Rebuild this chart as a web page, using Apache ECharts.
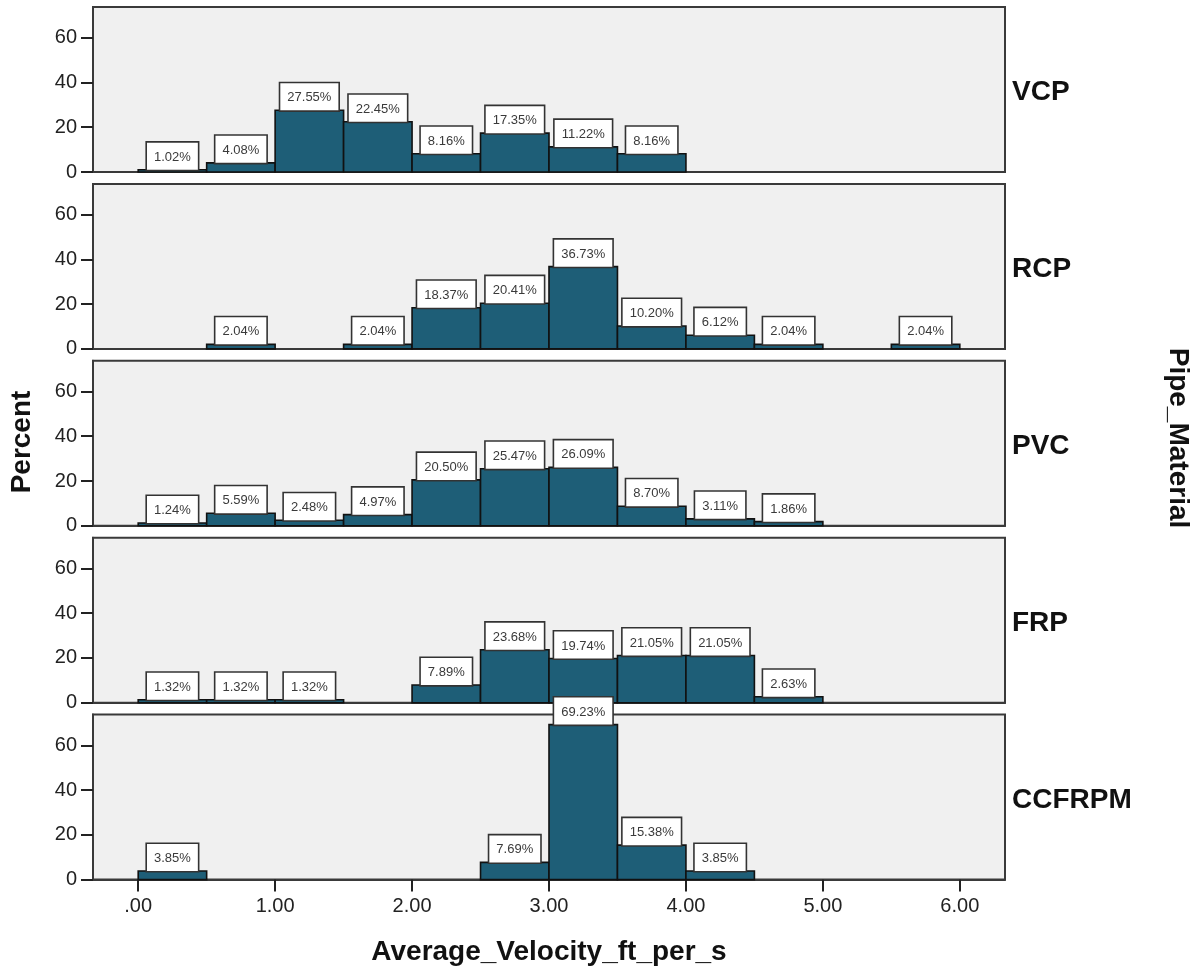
<!DOCTYPE html>
<html>
<head>
<meta charset="utf-8">
<script src="https://cdn.jsdelivr.net/npm/echarts@6/dist/echarts.min.js"></script>
<style>
  html, body { margin: 0; padding: 0; background: #fff; }
  #chart { width: 1200px; height: 970px; }
</style>
</head>
<body>
<div id="chart"></div>
<script>
// Histogram of average velocity by pipe material (percent of pipes per 0.5 ft/s bin)
const binEdges = [0, 0.5, 1, 1.5, 2, 2.5, 3, 3.5, 4, 4.5, 5, 5.5, 6];
const materials = ['VCP', 'RCP', 'PVC', 'FRP', 'CCFRPM'];

const pctVCP    = [1.02, 4.08, 27.55, 22.45, 8.16, 17.35, 11.22, 8.16, null, null, null, null];
const pctRCP    = [null, 2.04, null, 2.04, 18.37, 20.41, 36.73, 10.20, 6.12, 2.04, null, 2.04];
const pctPVC    = [1.24, 5.59, 2.48, 4.97, 20.50, 25.47, 26.09, 8.70, 3.11, 1.86, null, null];
const pctFRP    = [1.32, 1.32, 1.32, null, 7.89, 23.68, 19.74, 21.05, 21.05, 2.63, null, null];
const pctCCFRPM = [3.85, null, null, null, null, 7.69, 69.23, 15.38, 3.85, null, null, null];

const xTickValues = [0, 1, 2, 3, 4, 5, 6];
const xTickLabels = ['.00', '1.00', '2.00', '3.00', '4.00', '5.00', '6.00'];
const yTickValues = [0, 20, 40, 60];

const xTitle = 'Average_Velocity_ft_per_s';
const yTitle = 'Percent';
const panelTitle = 'Pipe_Material';

const panels = [pctVCP, pctRCP, pctPVC, pctFRP, pctCCFRPM];

const FONT = '"Liberation Sans", Arial, sans-serif';
const BAR_COLOR = '#1e5e77';

// panel layout
const PANEL_TOP = 7, PANEL_STEP = 176.9, PANEL_H = 165, PANEL_LEFT = 93, PANEL_RIGHT = 195;

const grids = [], xAxes = [], yAxes = [], series = [], graphics = [];

panels.forEach((vals, i) => {
  const top = PANEL_TOP + PANEL_STEP * i;
  const last = i === panels.length - 1;
  grids.push({
    left: PANEL_LEFT, right: PANEL_RIGHT, top: top, height: PANEL_H,
    show: true, backgroundColor: '#f0f0f0', borderColor: '#3a3a3a', borderWidth: 2
  });
  xAxes.push({
    type: 'value', gridIndex: i, min: -0.33, max: 6.33,
    splitLine: { show: false },
    axisLine: { show: true, onZero: false, lineStyle: { color: '#3a3a3a', width: 2 } },
    axisTick: { show: last, customValues: xTickValues, length: 12, lineStyle: { color: '#222', width: 2 } },
    axisLabel: {
      show: last, customValues: xTickValues, margin: 17,
      fontFamily: FONT, fontSize: 20, color: '#222',
      formatter: v => xTickLabels[xTickValues.indexOf(v)] || ''
    }
  });
  yAxes.push({
    type: 'value', gridIndex: i, min: 0, max: 73.7,
    splitLine: { show: false },
    axisLine: { show: true, onZero: false, lineStyle: { color: '#3a3a3a', width: 2 } },
    axisTick: { show: true, customValues: yTickValues, length: 12, lineStyle: { color: '#222', width: 2 } },
    axisLabel: { customValues: yTickValues, margin: 16, fontFamily: FONT, fontSize: 20, color: '#222' }
  });

  const data = [];
  vals.forEach((v, k) => {
    if (v !== null) data.push([binEdges[k], binEdges[k + 1], v]);
  });

  series.push({
    type: 'custom', xAxisIndex: i, yAxisIndex: i, clip: false, z: 3,
    data: data,
    encode: { x: [0, 1], y: 2 },
    renderItem: (params, api) => {
      const x0 = api.value(0), x1 = api.value(1), v = api.value(2);
      const pTop = api.coord([x0, v]);
      const pBot = api.coord([x1, 0]);
      return {
        type: 'group',
        children: [
          {
            type: 'rect',
            shape: { x: pTop[0], y: pTop[1], width: pBot[0] - pTop[0], height: pBot[1] - pTop[1] },
            style: { fill: BAR_COLOR, stroke: '#111', lineWidth: 1.6 }
          },
          {
            type: 'text', z2: 10,
            x: (pTop[0] + pBot[0]) / 2, y: pTop[1],
            style: {
              text: v.toFixed(2) + '%',
              align: 'center', verticalAlign: 'bottom',
              fontFamily: FONT, fontSize: 13, fill: '#3a3a3a',
              backgroundColor: '#ffffff', borderColor: '#333', borderWidth: 1.6,
              padding: [8, 7, 6, 7]
            }
          }
        ]
      };
    }
  });

  graphics.push({
    type: 'text', left: 1012, top: top + PANEL_H / 2 + 5 - 16,
    style: { text: materials[i], fontFamily: FONT, fontSize: 28, fontWeight: 'bold', fill: '#111' }
  });
});

graphics.push({
  type: 'text', x: 22, y: 442, rotation: Math.PI / 2,
  style: { text: yTitle, fontFamily: FONT, fontSize: 28, fontWeight: 'bold', fill: '#111', align: 'center', verticalAlign: 'middle' }
});
graphics.push({
  type: 'text', x: 1178, y: 438, rotation: -Math.PI / 2,
  style: { text: panelTitle, fontFamily: FONT, fontSize: 28, fontWeight: 'bold', fill: '#111', align: 'center', verticalAlign: 'middle' }
});
graphics.push({
  type: 'text', x: 549, y: 952,
  style: { text: xTitle, fontFamily: FONT, fontSize: 28, fontWeight: 'bold', fill: '#111', align: 'center', verticalAlign: 'middle' }
});

const chart = echarts.init(document.getElementById('chart'), null, { renderer: 'canvas' });
chart.setOption({
  animation: false,
  backgroundColor: '#ffffff',
  grid: grids,
  xAxis: xAxes,
  yAxis: yAxes,
  series: series,
  graphic: graphics
});
</script>
</body>
</html>
